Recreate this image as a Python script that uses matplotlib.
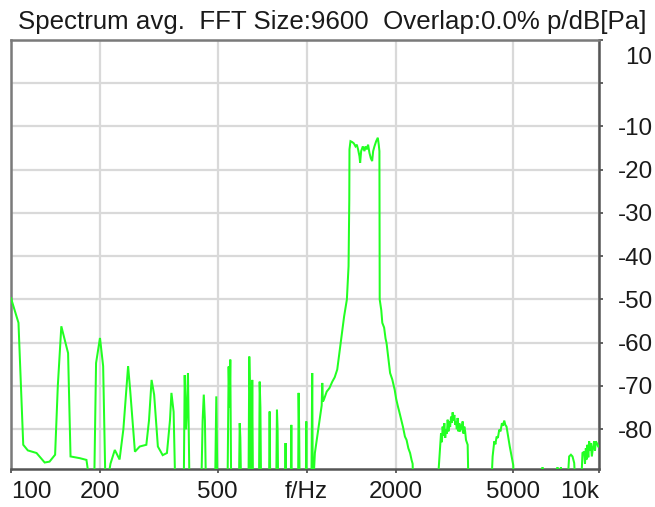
import matplotlib
matplotlib.use("Agg")
import matplotlib.pyplot as plt
import numpy as np

plt.rcParams['font.family'] = ['Liberation Sans', 'DejaVu Sans']

# ---- data ----
title = "Spectrum avg.  FFT Size:9600  Overlap:0.0% p/dB[Pa]"
x_tick_values = [100, 200, 500, 1000, 2000, 5000, 9760]
x_tick_labels = ["100", "200", "500", "f/Hz", "2000", "5000", "10k"]
y_tick_values = [10, 0, -10, -20, -30, -40, -50, -60, -70, -80]
y_tick_labels = ["", "", "-10", "-20", "-30", "-40", "-50", "-60", "-70", "-80"]
top_label = "10"

freq_low = [100, 106, 110, 114, 122, 130, 135, 141, 144, 148, 156, 159, 171, 180, 187, 191,
            194, 200, 205, 209, 217, 224.5, 233, 240, 249, 253, 262.6, 272.6, 287, 293,
            299, 305, 314, 326, 337, 345, 349, 355, 360]
db_low = [-49.7, -55.4, -83.6, -84.9, -85.5, -87.7, -87.5, -85.9, -70.0, -56.2, -62.4, -86.3,
          -86.7, -87.1, -95, -95, -64.7, -58.9, -65.4, -95, -88.0, -84.8, -87.0, -80.0, -65.4,
          -70.9, -85.2, -84.0, -83.6, -78.0, -68.6, -72.0, -84.0, -86.0, -85.5, -78.0, -71.6,
          -76.0, -95]

freq_harm = [384, 387, 391, 394, 397, 402, 440, 445, 449, 453, 457, 490, 495, 500, 540, 545,
             549, 552, 556, 590, 594, 597, 601, 636, 640, 644, 648, 651, 655, 659, 690, 694,
             698, 702, 746, 750, 754, 789, 794, 798, 802, 845, 849, 853, 884, 888, 892, 936,
             940, 944, 948, 994, 998, 1002, 1038, 1045, 1050]
db_harm = [-95, -67.5, -80, -75, -67.0, -95, -95, -78, -72.0, -78, -95, -95, -72.4, -95, -95,
           -65.5, -75, -63.9, -95, -95, -78.6, -82, -95, -95, -63.2, -72, -95, -95, -68.6, -95,
           -95, -69.0, -75, -95, -95, -75.9, -95, -95, -75.5, -80, -95, -95, -83.2, -95, -95,
           -79.0, -95, -95, -71.6, -80, -95, -95, -78.2, -95, -95, -67.0, -95]

freq_band = [1067, 1091, 1116, 1125, 1130, 1136, 1144, 1170, 1195, 1222, 1245, 1270, 1300,
             1340, 1369, 1387, 1395, 1397, 1408, 1427, 1445, 1464, 1479, 1494, 1510, 1518,
             1530, 1550, 1570, 1582, 1599, 1615, 1632, 1649, 1667, 1680, 1697, 1720, 1742,
             1755, 1764, 1766, 1768, 1790, 1804, 1830, 1850, 1865, 1890, 1917, 1950, 1987,
             2010, 2037, 2060, 2090, 2120, 2152, 2180, 2210, 2240, 2266, 2285, 2300]
db_band = [-85.5, -80.9, -76.3, -74.5, -69.3, -73.6, -73.2, -71.3, -70.5, -69.0, -68.0, -66.2,
           -60.9, -53.9, -50.0, -42.3, -26.9, -15.3, -13.4, -13.6, -13.9, -14.6, -14.2, -15.3,
           -16.9, -18.4, -15.7, -14.6, -15.7, -14.6, -15.3, -14.2, -16.1, -17.3, -18.0, -15.7,
           -14.6, -13.4, -12.6, -14.2, -15.7, -35.0, -50.0, -52.5, -55.4, -56.5, -59.0, -60.1,
           -63.5, -67.0, -68.5, -70.9, -73.0, -74.7, -76.0, -77.8, -79.5, -81.7, -82.5, -84.4,
           -85.5, -87.1, -88.0, -95]

freq_bump1 = [2777, 2800, 2829, 2851, 2870, 2887, 2905, 2925, 2945, 2964, 2985, 3002, 3020,
              3041, 3060, 3082, 3100, 3121, 3140, 3162, 3183, 3204, 3224, 3244, 3265, 3287,
              3310, 3331, 3352, 3373, 3395, 3418, 3440, 3463, 3508, 3535]
db_bump1 = [-95, -89.0, -84.4, -80.9, -83.0, -79.4, -81.5, -78.6, -82.0, -80.1, -81.0, -77.8,
            -80.5, -78.2, -79.5, -77.1, -78.5, -76.1, -78.0, -76.7, -79.0, -78.2, -80.0, -77.4,
            -80.5, -78.6, -80.5, -79.0, -80.0, -78.2, -81.0, -79.4, -80.5, -82.5, -83.6, -95]

freq_bump2 = [4207, 4261, 4290, 4317, 4355, 4395, 4440, 4487, 4530, 4582, 4620, 4665, 4705,
              4749, 4790, 4825, 4870, 4915, 4960, 5004, 5030]
db_bump2 = [-95, -86.3, -84.5, -82.8, -83.5, -81.7, -82.0, -80.1, -80.5, -78.6, -79.2, -78.0,
            -79.0, -79.4, -81.0, -82.5, -84.0, -85.5, -87.0, -88.3, -95]

freq_high = [6280, 6285, 6290, 7060, 7063, 7066, 7250, 7254, 7258, 7600, 7735, 7842, 7940,
             8045, 8151, 8472, 8580, 8695, 8750, 8809, 8860, 8920, 8980, 9039, 9100, 9158,
             9230, 9324, 9397, 9460, 9521, 9594, 9700, 9760]
db_high = [-95, -88.8, -95, -95, -88.8, -95, -95, -88.8, -95, -95, -86.3, -85.9, -86.3, -87.8,
           -95, -95, -85.5, -85.2, -88.0, -84.4, -87.0, -83.6, -86.5, -82.8, -85.0, -83.2,
           -86.3, -84.0, -82.8, -85.0, -82.8, -83.2, -84.0, -84.0]

freq = freq_low + freq_harm + freq_band + freq_bump1 + freq_bump2 + freq_high
level = db_low + db_harm + db_band + db_bump1 + db_bump2 + db_high

# ---- figure ----
W, H = 655, 507
fig = plt.figure(figsize=(W / 100, H / 100), dpi=100)
L, R, T, B = 11, 599, 40, 469
ax = fig.add_axes([L / W, 1 - B / H, (R - L) / W, (B - T) / H])

ax.plot(freq, level, color='#22ff22', lw=1.45, solid_joinstyle='miter', zorder=3)

ax.set_xscale('log')
ax.set_xlim(100, 9760)
ax.set_ylim(-89.2, 10)

ax.set_xticks(x_tick_values)
ax.set_xticklabels(x_tick_labels)
ax.xaxis.set_minor_locator(matplotlib.ticker.NullLocator())
ax.set_yticks(y_tick_values)
ax.set_yticklabels(y_tick_labels)
ax.yaxis.tick_right()

fs = 17.4
ax.tick_params(axis='x', direction='out', length=3, width=1.3, color='#555555',
               labelsize=fs, pad=6.0, labelcolor='#1a1a1a')
ax.tick_params(axis='y', direction='out', length=3, width=1.3, color='#555555',
               labelsize=fs, pad=36, labelcolor='#1a1a1a')
for lbl in ax.get_yticklabels():
    lbl.set_horizontalalignment('right')
xl = ax.get_xticklabels()
xl[0].set_horizontalalignment('left')
xl[-1].set_horizontalalignment('right')

ax.grid(True, which='major', color='#d9d9d9', lw=1.6, zorder=0)
ax.set_axisbelow(True)

for s in ['left', 'top']:
    ax.spines[s].set_color('#7a7a7a')
    ax.spines[s].set_linewidth(1.8)
for s in ['right', 'bottom']:
    ax.spines[s].set_color('#555555')
    ax.spines[s].set_linewidth(1.8)

fig.text(18 / W, 1 - 29 / H, title, ha='left', va='baseline', fontsize=18.6,
         color='#1a1a1a')
fig.text(652 / W, 1 - 55 / H, top_label, ha='right', va='center_baseline', fontsize=fs,
         color='#1a1a1a')

fig.savefig('out.png', dpi=100, facecolor='white')
